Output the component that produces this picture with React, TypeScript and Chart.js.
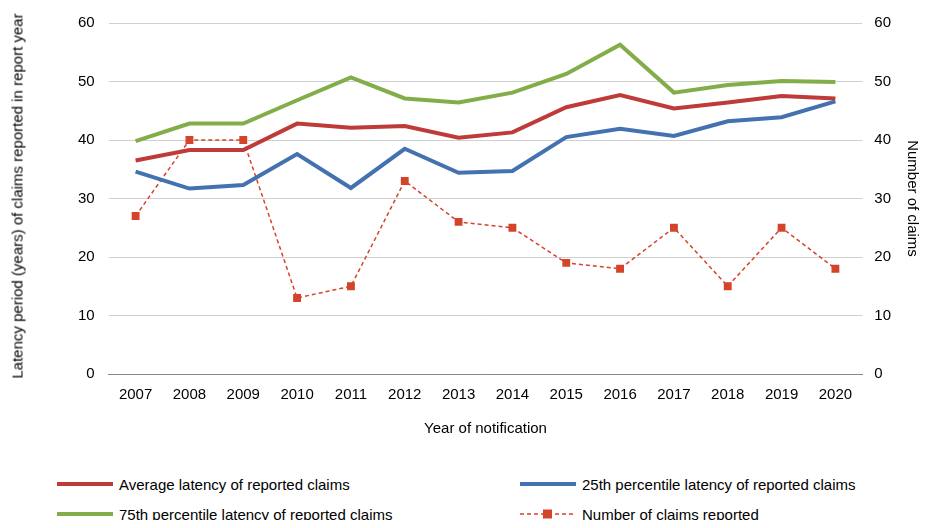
import { useEffect, useRef } from "react"
import { Chart, registerables } from "chart.js"

Chart.register(...registerables)

const years = ["2007", "2008", "2009", "2010", "2011", "2012", "2013", "2014", "2015", "2016", "2017", "2018", "2019", "2020"]
const avgLatency = [36.5, 38.3, 38.3, 42.8, 42.1, 42.4, 40.4, 41.3, 45.6, 47.7, 45.4, 46.4, 47.5, 47.1]
const p25Latency = [34.6, 31.7, 32.3, 37.6, 31.8, 38.5, 34.4, 34.7, 40.5, 41.9, 40.7, 43.2, 43.9, 46.6]
const p75Latency = [39.8, 42.8, 42.8, 46.8, 50.7, 47.1, 46.4, 48.1, 51.3, 56.3, 48.1, 49.4, 50.1, 49.9]
const claimsCount = [27, 40, 40, 13, 15, 33, 26, 25, 19, 18, 25, 15, 25, 18]

const font = "'Liberation Sans', Arial, sans-serif"
const red = "#be3b3a"
const blue = "#4472b0"
const green = "#82ad48"
const dashRed = "#d3442b"

export default function App() {
  const chartRef = useRef<HTMLCanvasElement>(null)

  useEffect(() => {
    if (!chartRef.current) return
    const chart = new Chart(chartRef.current, {
      type: "line",
      data: {
        labels: years,
        datasets: [
          { label: "Average latency of reported claims", data: avgLatency, borderColor: red, borderWidth: 4, pointRadius: 0, yAxisID: "y" },
          { label: "25th percentile latency of reported claims", data: p25Latency, borderColor: blue, borderWidth: 4, pointRadius: 0, yAxisID: "y" },
          { label: "75th percentile latency of reported claims", data: p75Latency, borderColor: green, borderWidth: 4, pointRadius: 0, yAxisID: "y" },
          {
            label: "Number of claims reported", data: claimsCount, borderColor: dashRed, backgroundColor: dashRed,
            borderWidth: 1.5, borderDash: [4, 3], pointStyle: "rect", pointRadius: 4.5, yAxisID: "y1",
          },
        ],
      },
      options: {
        animation: false,
        responsive: true,
        maintainAspectRatio: false,
        layout: { padding: { left: 64, right: 8, top: 2 } },
        plugins: { legend: { display: false }, tooltip: { enabled: false } },
        scales: {
          x: {
            offset: true,
            grid: { display: false },
            border: { color: "#888" },
            ticks: { color: "#000", font: { family: font, size: 15 }, padding: 4 },
            title: { display: true, text: "Year of notification", color: "#000", font: { family: font, size: 15 }, padding: { top: 12 } },
          },
          y: {
            min: 0, max: 60,
            ticks: { stepSize: 10, color: "#000", font: { family: font, size: 15 }, padding: 14 },
            grid: { color: "#d0d0d0", drawTicks: false },
            border: { display: false },
          },
          y1: {
            position: "right", min: 0, max: 60,
            ticks: { stepSize: 10, color: "#000", font: { family: font, size: 15 }, padding: 12 },
            grid: { display: false, drawTicks: false },
            border: { display: false },
            title: { display: true, text: "Number of claims", color: "#000", font: { family: font, size: 15 }, padding: { top: 12, bottom: 0 } },
          },
        },
      },
    })
    return () => chart.destroy()
  }, [])

  const item = (label: string, color: string, dashed = false) => (
    <div style={{ display: "flex", alignItems: "center", height: 28 }}>
      <svg width={56} height={12} style={{ marginRight: 6 }}>
        {dashed ? (
          <>
            <line x1={0} y1={6} x2={56} y2={6} stroke={color} strokeWidth={1.5} strokeDasharray="4 3" />
            <rect x={23} y={1.5} width={9} height={9} fill={color} />
          </>
        ) : (
          <line x1={0} y1={6} x2={56} y2={6} stroke={color} strokeWidth={4} />
        )}
      </svg>
      <span>{label}</span>
    </div>
  )

  return (
    <div style={{ width: 941, height: 528, margin: -8, fontFamily: font, fontSize: 15, color: "#000", background: "#fff", overflow: "hidden" }}>
      <div style={{ height: 442, position: "relative" }}>
        <canvas ref={chartRef} />
        <div style={{ position: "absolute", left: 17, top: 196, width: 0, height: 0 }}>
          <div style={{ position: "absolute", transform: "translate(-50%, -50%) rotate(-90deg)", whiteSpace: "nowrap" }}>
            Latency period (years) of claims reported in report year
          </div>
        </div>
      </div>
      <div style={{ display: "grid", gridTemplateColumns: "463px 420px", paddingLeft: 57, marginTop: 28, rowGap: 2 }}>
        {item("Average latency of reported claims", red)}
        {item("25th percentile latency of reported claims", blue)}
        {item("75th percentile latency of reported claims", green)}
        {item("Number of claims reported", dashRed, true)}
      </div>
    </div>
  )
}
